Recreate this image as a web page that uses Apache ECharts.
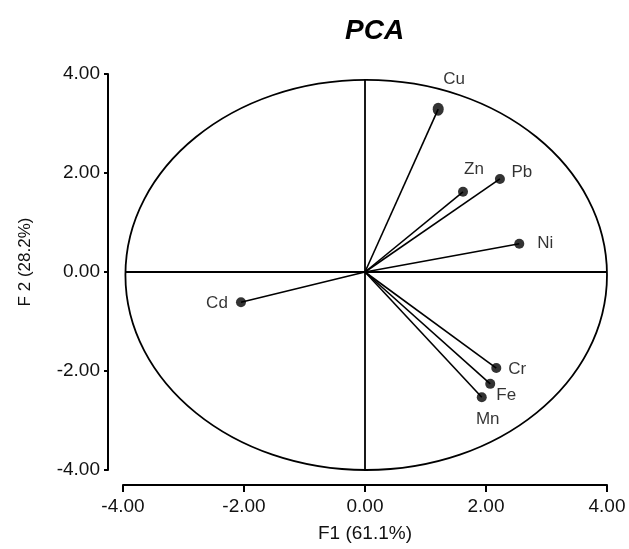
<!DOCTYPE html>
<html><head><meta charset="utf-8">
<script src="https://cdn.jsdelivr.net/npm/echarts@6/dist/echarts.min.js"></script>
<style>html,body{margin:0;padding:0;background:#fff}#c{width:629px;height:549px}</style>
</head><body><div id="c"></div>
<script>
// ---- data ----
const variables = ['Cu', 'Zn', 'Pb', 'Ni', 'Cd', 'Cr', 'Fe', 'Mn'];
const f1 = [1.21, 1.62, 2.23, 2.55, -2.05, 2.17, 2.07, 1.93];
const f2 = [3.29, 1.62, 1.88, 0.57, -0.61, -1.94, -2.26, -2.53];
const xTicks = [-4, -2, 0, 2, 4];
const yTicks = [-4, -2, 0, 2, 4];
const circleCx = [0.02];
const circleCy = [-0.06];
const circleRx = [3.98];
const circleRy = [3.94];

// ---- style config ----
const FONT = "'Liberation Sans', Arial, sans-serif";
const labelOffsets = {Cu:[16,-30], Zn:[11,-22], Pb:[22,-7], Ni:[26,0], Cd:[-24,1], Cr:[21,1], Fe:[16,11], Mn:[6,22]};
const markerSizes = {Cu:[11,13]};

const chart = echarts.init(document.getElementById('c'));
const pts = variables.map((n, i) => ({
  name: n,
  value: [f1[i], f2[i]],
  symbolSize: markerSizes[n] || 10,
  label: {offset: labelOffsets[n]}
}));
const circleData = [[circleCx[0], circleCy[0], circleRx[0], circleRy[0]]];

chart.setOption({
  animation: false,
  backgroundColor: '#fff',
  title: {
    text: 'PCA', left: 345, top: 17, padding: 0,
    textStyle: {fontFamily: FONT, fontSize: 28, fontWeight: 'bold', fontStyle: 'italic', color: '#000'}
  },
  grid: {left: 123, right: 22, top: 74, bottom: 79, outerBoundsMode: 'none'},
  xAxis: {
    type: 'value', min: xTicks[0], max: xTicks[xTicks.length - 1], interval: xTicks[1] - xTicks[0],
    offset: 15,
    axisLine: {onZero: false, lineStyle: {color: '#000', width: 2}},
    axisTick: {length: 7, lineStyle: {color: '#000', width: 2}},
    axisLabel: {formatter: v => v.toFixed(2), fontFamily: FONT, fontSize: 19, color: '#111', margin: 12},
    splitLine: {show: false},
    name: 'F1 (61.1%)', nameLocation: 'middle', nameGap: 39,
    nameTextStyle: {fontFamily: FONT, fontSize: 19, color: '#111'}
  },
  yAxis: {
    type: 'value', min: yTicks[0], max: yTicks[yTicks.length - 1], interval: yTicks[1] - yTicks[0],
    offset: 15,
    axisLine: {onZero: false, lineStyle: {color: '#000', width: 2}},
    axisTick: {length: 4, lineStyle: {color: '#000', width: 2}},
    axisLabel: {formatter: v => v.toFixed(2), fontFamily: FONT, fontSize: 19, color: '#111', margin: 8},
    splitLine: {show: false},
    name: 'F 2 (28.2%)', nameLocation: 'middle', nameGap: 74,
    nameTextStyle: {fontFamily: FONT, fontSize: 17, color: '#111', padding: [0, 0, 0, 20]}
  },
  series: [
    {
      type: 'custom', clip: false, silent: true,
      data: circleData,
      renderItem: function (params, api) {
        const cx = api.value(0), cy = api.value(1), rx = api.value(2), ry = api.value(3);
        const c = api.coord([cx, cy]);
        const s = api.size([rx, ry]);
        const l = api.coord([cx - rx, 0]), r = api.coord([cx + rx, 0]);
        const t = api.coord([0, cy + ry]), b = api.coord([0, cy - ry]);
        return {type: 'group', children: [
          {type: 'ellipse', shape: {cx: c[0], cy: c[1], rx: s[0], ry: s[1]}, style: {fill: null, stroke: '#000', lineWidth: 1.8}},
          {type: 'line', shape: {x1: l[0], y1: l[1], x2: r[0], y2: r[1]}, style: {stroke: '#000', lineWidth: 1.8}},
          {type: 'line', shape: {x1: t[0], y1: t[1], x2: b[0], y2: b[1]}, style: {stroke: '#000', lineWidth: 1.8}}
        ]};
      }
    },
    {
      type: 'custom', clip: false, silent: true,
      data: f1.map((x, i) => [x, f2[i]]),
      renderItem: function (params, api) {
        const o = api.coord([0, 0]);
        const p = api.coord([api.value(0), api.value(1)]);
        return {type: 'line', shape: {x1: o[0], y1: o[1], x2: p[0], y2: p[1]}, style: {stroke: '#000', lineWidth: 1.6}};
      }
    },
    {
      type: 'scatter', symbol: 'circle',
      itemStyle: {color: '#000'},
      label: {show: true, position: 'inside', formatter: '{b}', fontFamily: FONT, fontSize: 17, color: '#000'},
      data: pts
    }
  ]
});
</script></body></html>
